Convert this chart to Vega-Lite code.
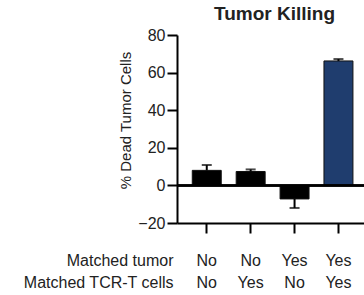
{
  "$schema": "https://vega.github.io/schema/vega-lite/v6.json",
  "autosize": {"type": "none"},
  "padding": {"left": 177, "top": 35, "right": 0, "bottom": 72},
  "width": 187,
  "height": 188,
  "title": {"text": "Tumor Killing", "fontSize": 19, "fontWeight": "bold", "font": "Liberation Sans", "anchor": "middle", "frame": "group", "dx": 4, "dy": 22, "offset": 10, "baseline": "alphabetic", "color": "#222"},
  "data": {"values": [
    {"cond": "No|No", "v": 8.0, "e": 10.8, "grp": "ctrl"},
    {"cond": "No|Yes", "v": 7.4, "e": 8.5, "grp": "ctrl"},
    {"cond": "Yes|No", "v": -7.2, "e": -12.0, "grp": "ctrl"},
    {"cond": "Yes|Yes", "v": 66.2, "e": 67.2, "grp": "match"}
  ]},
  "encoding": {
    "x": {
      "field": "cond", "type": "nominal", "sort": null,
      "scale": {"paddingInner": 0.34, "paddingOuter": 0.3, "align": 0.58},
      "axis": {
        "orient": "bottom", "offset": 0,
        "labelAngle": 0, "labelFontSize": 16, "labelLineHeight": 22, "labelColor": "#222",
        "labelExpr": "[slice(datum.value, 0, indexof(datum.value, '|')), slice(datum.value, indexof(datum.value, '|') + 1)]",
        "labelPadding": 19, "labelBaseline": "top",
        "tickSize": 10, "tickWidth": 2, "tickColor": "black", "domainColor": "black", "domainWidth": 2,
        "title": ["Matched tumor", "Matched TCR-T cells"], "titleFontSize": 16, "titleFontWeight": "normal", "titleColor": "#222",
        "titleLineHeight": 22, "titleAlign": "right", "titleAnchor": "start", "titleX": -4, "titleY": 29, "titleBaseline": "top"
      }
    },
    "y": {"field": "v", "type": "quantitative", "scale": {"domain": [-20, 80], "nice": false, "zero": false},
      "axis": {"values": [-20, 0, 20, 40, 60, 80], "labelOverlap": false, "grid": false, "labelFontSize": 16, "labelColor": "#222", "labelPadding": 2,
        "tickSize": 10, "tickWidth": 2, "tickColor": "black", "domainColor": "black", "domainWidth": 2,
        "title": "% Dead Tumor Cells", "titleFontSize": 15, "titleFontWeight": "normal", "titleColor": "#222",
        "titleX": -47, "titleY": 85, "titleBaseline": "alphabetic", "titleAlign": "center"}}
  },
  "layer": [
    {
      "mark": {"type": "bar", "stroke": "#111", "strokeWidth": 1},
      "encoding": {
        "color": {"field": "grp", "type": "nominal", "scale": {"domain": ["ctrl", "match"], "range": ["#000000", "#1f3d6e"]}, "legend": null}
      }
    },
    {
      "mark": {"type": "rule", "color": "black", "strokeWidth": 2},
      "encoding": {"y2": {"field": "e"}}
    },
    {
      "mark": {"type": "tick", "color": "black", "size": 10, "thickness": 2, "orient": "horizontal"},
      "encoding": {"y": {"field": "e", "type": "quantitative"}}
    },
    {
      "mark": {"type": "rule", "color": "black", "strokeWidth": 2},
      "encoding": {"y": {"datum": 0}, "x": null}
    }
  ],
  "config": {"font": "Liberation Sans", "view": {"stroke": null}}
}
